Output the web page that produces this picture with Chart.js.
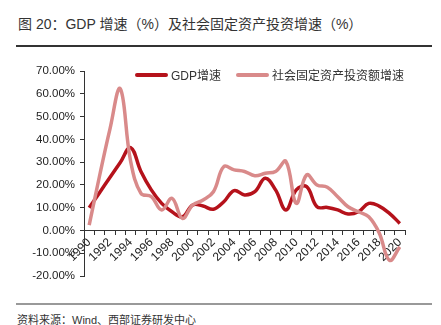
<!DOCTYPE html>
<html>
<head>
<meta charset="utf-8">
<script src="https://cdn.jsdelivr.net/npm/chart.js@4"></script>
<style>
  body { margin: 0; width: 441px; height: 325px; background: #fff; position: relative; overflow: hidden;
         font-family: "Liberation Sans", "Noto Sans CJK SC", sans-serif; color: #333; }
  #title { position: absolute; left: 18px; top: 13px; font-size: 14px; white-space: nowrap; }
  #topRule { position: absolute; left: 16px; top: 45px; width: 416px; height: 1.5px; background: #333; }
  #chartBox { position: absolute; left: 0; top: 55px; width: 441px; height: 245px; }
  #bottomRule { position: absolute; left: 16px; top: 303px; width: 416px; height: 2px; background: #999; }
  #source { position: absolute; left: 17px; top: 311px; font-size: 11px; white-space: nowrap; }
  .legend { position: absolute; top: 66px; font-size: 12px; white-space: nowrap; display: flex; align-items: center; }
  .legend i { display: inline-block; width: 33px; height: 4px; border-radius: 2px; margin-right: 3px; }
</style>
</head>
<body>
<div id="title">图 20：GDP 增速（%）及社会固定资产投资增速（%）</div>
<div id="topRule"></div>
<div id="chartBox"><canvas id="chart" width="441" height="245"></canvas></div>
<div class="legend" style="left:135px"><i style="background:#B5121B"></i>GDP增速</div>
<div class="legend" style="left:236px"><i style="background:#D98A8A"></i>社会固定资产投资额增速</div>
<div id="bottomRule"></div>
<div id="source">资料来源：Wind、西部证券研发中心</div>

<script>
// ===== DATA =====
const years = ['1990','1991','1992','1993','1994','1995','1996','1997','1998','1999',
  '2000','2001','2002','2003','2004','2005','2006','2007','2008','2009',
  '2010','2011','2012','2013','2014','2015','2016','2017','2018','2019','2020'];

// GDP增速 (%)
const gdpGrowth = [10.0, 16.6, 23.2, 29.8, 36.4, 25.9, 17.8, 11.9, 8.2, 6.0,
  11.2, 10.7, 9.3, 12.6, 17.5, 15.6, 17.0, 22.9, 17.8, 9.0,
  17.8, 19.2, 10.4, 10.1, 9.0, 7.2, 8.2, 11.9, 10.7, 7.5, 3.1];

// 社会固定资产投资额增速 (%)
const faiGrowth = [2.3, 23.9, 44.4, 62.2, 30.4, 16.3, 14.8, 9.0, 14.1, 5.3,
  11.2, 13.4, 17.0, 28.0, 26.6, 25.9, 24.0, 25.1, 25.9, 30.3,
  11.9, 24.4, 20.0, 19.0, 14.8, 10.4, 8.2, 6.0, -1.0, -13.1, -7.2];

const yMin = -20, yMax = 70, yStep = 10;

// ===== CHART =====
const axisColor = '#333';

new Chart(document.getElementById('chart'), {
  type: 'line',
  data: {
    labels: years,
    datasets: [
      {
        label: 'GDP增速',
        data: gdpGrowth,
        borderColor: '#B5121B',
        borderWidth: 3.5,
        pointRadius: 0,
        tension: 0.4,
        order: 1
      },
      {
        label: '社会固定资产投资额增速',
        data: faiGrowth,
        borderColor: '#D98A8A',
        borderWidth: 3.5,
        pointRadius: 0,
        tension: 0.4,
        order: 0
      }
    ]
  },
  options: {
    responsive: false,
    animation: false,
    layout: { padding: { left: 0, right: 36, top: 16, bottom: 24 } },
    plugins: { legend: { display: false }, tooltip: { enabled: false } },
    scales: {
      x: {
        position: { y: 0 },
        offset: true,
        border: { color: axisColor, width: 1 },
        grid: { offset: true, drawOnChartArea: false, drawTicks: true, tickLength: 4, color: axisColor },
        ticks: {
          autoSkip: false,
          maxRotation: 45,
          minRotation: 45,
          padding: 1,
          color: '#222',
          font: { family: 'Liberation Sans', size: 12 },
          callback: (v, i) => (i % 2 === 0 ? years[i] : '')
        }
      },
      y: {
        min: yMin,
        max: yMax,
        border: { color: axisColor, width: 1 },
        grid: { drawOnChartArea: false, drawTicks: true, tickLength: 4, color: axisColor },
        ticks: {
          stepSize: yStep,
          padding: 5,
          color: '#222',
          font: { family: 'Liberation Sans', size: 11.5 },
          callback: v => v.toFixed(2) + '%'
        },
        afterFit: s => { s.width = 84; }
      }
    }
  }
});
</script>
</body>
</html>
